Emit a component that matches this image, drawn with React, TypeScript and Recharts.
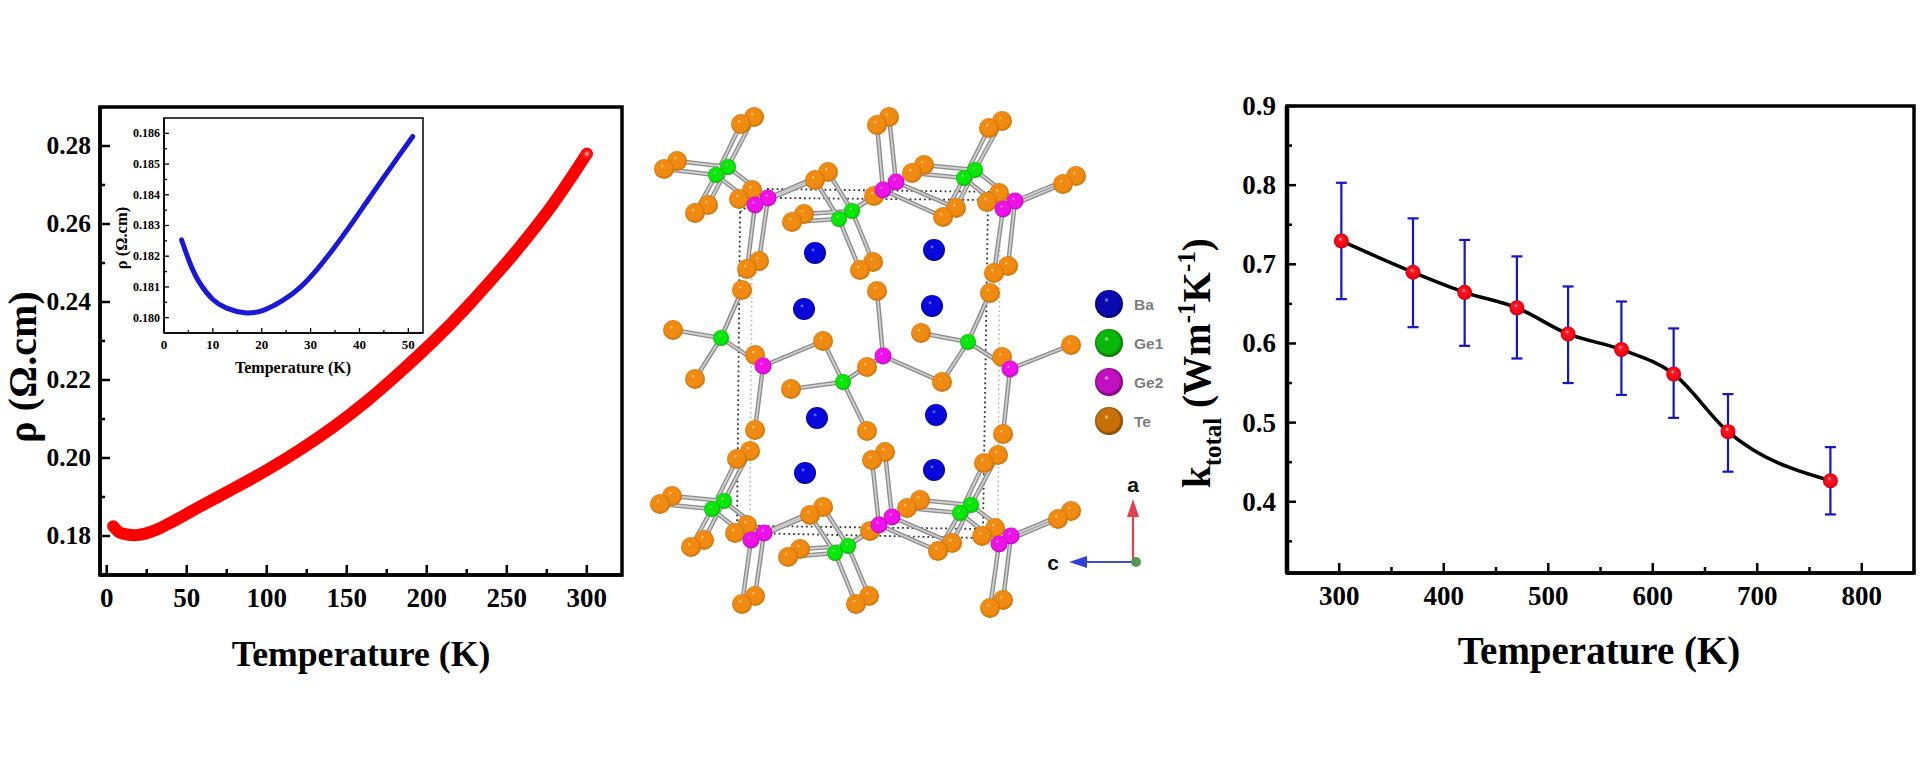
import React from "react";
import { LineChart, Line, ScatterChart, Scatter, XAxis, YAxis, ReferenceArea, ReferenceLine, ErrorBar, Label } from "recharts";

// ---------- resistivity (main) ----------
const rhoT = [4, 7, 10, 17, 24, 31, 38, 48, 58, 79, 100, 121, 141.7, 162.5, 183, 204, 225, 246, 258, 279, 300];
const rhoV = [0.1825, 0.1812, 0.1806, 0.1802, 0.1806, 0.1816, 0.183, 0.1852, 0.1875, 0.1921, 0.1969, 0.2022, 0.208, 0.2146, 0.2219, 0.2299, 0.2387, 0.2483, 0.2541, 0.2652, 0.278];
const rhoXMajor = [0, 50, 100, 150, 200, 250, 300];
const rhoXMinor = [25, 75, 125, 175, 225, 275];
const rhoYMajor = [0.18, 0.2, 0.22, 0.24, 0.26, 0.28];
const rhoYMinor = [0.17, 0.19, 0.21, 0.23, 0.25, 0.27, 0.29];

// ---------- resistivity (inset) ----------
const insetT = [3.6, 5.3, 7.3, 10, 12.8, 16.5, 20.3, 24.3, 27.8, 31.2, 34.6, 38, 41.4, 44.8, 48.2, 50.9];
const insetV = [0.18253, 0.18178, 0.18113, 0.18059, 0.18031, 0.18016, 0.18024, 0.18056, 0.18098, 0.18155, 0.18223, 0.18297, 0.18375, 0.18453, 0.1853, 0.1859];
const insetXMajor = [0, 10, 20, 30, 40, 50];
const insetXMinor = [5, 15, 25, 35, 45];
const insetYMajor = [0.18, 0.181, 0.182, 0.183, 0.184, 0.185, 0.186];
const insetYMinor = [0.1805, 0.1815, 0.1825, 0.1835, 0.1845, 0.1855];

// ---------- thermal conductivity ----------
const kT = [302, 370.6, 420, 470, 519, 570, 620, 672, 770];
const kV = [0.7295, 0.69, 0.6646, 0.645, 0.612, 0.5924, 0.5614, 0.4886, 0.4266];
const kHigh = [0.803, 0.758, 0.7308, 0.71, 0.672, 0.653, 0.619, 0.536, 0.469];
const kLow = [0.656, 0.6206, 0.597, 0.581, 0.55, 0.535, 0.506, 0.438, 0.384];
const kXMajor = [300, 400, 500, 600, 700, 800];
const kXMinor = [250, 350, 450, 550, 650, 750, 850];
const kYMajor = [0.4, 0.5, 0.6, 0.7, 0.8, 0.9];
const kYMinor = [0.35, 0.45, 0.55, 0.65, 0.75, 0.85];

// ---------- crystal structure, read in picture units ----------
const teAtoms = [
  [754, 117], [741, 124], [677, 161], [664, 169], [708, 205], [695, 213], [752, 190], [739, 199], [828, 172], [815, 180], [804, 214], [792, 222],
  [759, 261], [747, 269], [873, 262], [860, 270], [889, 117], [877, 125], [924, 165], [912, 173], [874, 196], [956, 208], [943, 217], [1002, 121],
  [989, 128], [1076, 176], [1063, 184], [999, 193], [987, 202], [1008, 266], [994, 273],
  [742, 290], [877, 291], [673, 330], [755, 355], [823, 341], [921, 333], [695, 379], [867, 367], [942, 382], [791, 389], [755, 430], [867, 431], [990, 293], [1071, 345], [1002, 357], [1003, 434],
  [750, 451], [737, 459], [672, 496], [660, 504], [704, 540], [691, 547], [747, 525], [735, 533], [823, 507], [810, 515], [800, 549], [788, 557],
  [755, 596], [742, 604], [869, 596], [856, 604], [885, 452], [872, 460], [920, 500], [907, 508], [870, 531], [952, 543], [938, 551], [998, 455],
  [984, 463], [1071, 511], [1058, 519], [995, 528], [982, 536], [1003, 600], [990, 608],
];
const baAtoms = [[815, 253], [934, 250], [804, 309], [932, 306], [817, 418], [936, 415], [805, 473], [934, 470]];
const ge1Atoms = [[728, 167], [716, 175], [852, 211], [839, 219], [975, 170], [964, 178], [721, 338], [843, 382], [968, 342], [724, 501], [712, 509], [848, 546], [835, 553], [971, 505], [960, 513]];
const ge2Atoms = [[768, 198], [755, 205], [896, 182], [883, 190], [1015, 201], [1003, 209], [763, 366], [883, 356], [1010, 369], [764, 533], [751, 540], [892, 517], [879, 525], [1011, 536], [999, 544]];
const bonds = [
  [728, 167, 754, 117], [728, 167, 677, 161], [728, 167, 708, 205], [728, 167, 768, 198],
  [716, 175, 741, 124], [716, 175, 664, 169], [716, 175, 695, 213], [716, 175, 755, 205],
  [768, 198, 828, 172], [755, 205, 815, 180], [768, 198, 759, 261], [755, 205, 747, 269],
  [852, 211, 828, 172], [852, 211, 804, 214], [852, 211, 873, 262], [852, 211, 896, 182],
  [839, 219, 815, 180], [839, 219, 792, 222], [839, 219, 860, 270], [839, 219, 883, 190],
  [896, 182, 889, 117], [896, 182, 956, 208], [883, 190, 877, 125], [883, 190, 943, 217],
  [975, 170, 1002, 121], [975, 170, 924, 165], [975, 170, 956, 208], [975, 170, 1015, 201],
  [964, 178, 989, 128], [964, 178, 912, 173], [964, 178, 943, 217], [964, 178, 1003, 209],
  [1015, 201, 1076, 176], [1015, 201, 1008, 266], [1003, 209, 1063, 184], [1003, 209, 994, 273],
  [721, 338, 742, 290], [721, 338, 673, 330], [721, 338, 695, 379], [721, 338, 763, 366],
  [763, 366, 823, 341], [763, 366, 755, 430],
  [843, 382, 823, 341], [843, 382, 791, 389], [843, 382, 867, 431], [843, 382, 883, 356],
  [883, 356, 877, 291], [883, 356, 942, 382],
  [968, 342, 990, 293], [968, 342, 921, 333], [968, 342, 942, 382], [968, 342, 1010, 369],
  [1010, 369, 1071, 345], [1010, 369, 1003, 434],
  [724, 501, 750, 451], [724, 501, 672, 496], [724, 501, 704, 540], [724, 501, 764, 533],
  [712, 509, 737, 459], [712, 509, 660, 504], [712, 509, 691, 547], [712, 509, 751, 540],
  [764, 533, 823, 507], [764, 533, 755, 596], [751, 540, 810, 515], [751, 540, 742, 604],
  [848, 546, 823, 507], [848, 546, 800, 549], [848, 546, 869, 596], [848, 546, 892, 517],
  [835, 553, 810, 515], [835, 553, 788, 557], [835, 553, 856, 604], [835, 553, 879, 525],
  [892, 517, 885, 452], [892, 517, 952, 543], [879, 525, 872, 460], [879, 525, 938, 551],
  [971, 505, 998, 455], [971, 505, 920, 500], [971, 505, 952, 543], [971, 505, 1011, 536],
  [960, 513, 984, 463], [960, 513, 907, 508], [960, 513, 938, 551], [960, 513, 999, 544],
  [1011, 536, 1071, 511], [1011, 536, 1003, 600], [999, 544, 1058, 519], [999, 544, 990, 608],
];
const cellDark = [
  [767, 189, 1000, 192], [780, 198, 985, 200], [740, 212, 737, 530], [740, 212, 758, 198], [988, 200, 983, 529], [758, 526, 985, 529], [745, 533, 980, 538],
];
const cellLight = [[752, 260, 750, 512], [1000, 200, 998, 525]];
const legendNames = ["Ba", "Ge1", "Ge2", "Te"];
const legendColumn = [1109, 1109, 1109, 1109];
const legendRows = [304, 343, 382, 421];
const triadLines = [[1133, 562, 1133, 515, "#e2404c"], [1133, 562, 1085, 562, "#3b50d0"]];
const triadHeads = [{ x: 1133, y: 499, dir: "up" }, { x: 1069, y: 562, dir: "left" }];
const triadNames = [{ x: 1133, y: 485, t: "a" }, { x: 1053, y: 563, t: "c" }];
const triadOrigin = [{ x: 1136, y: 562 }];

const SERIF = "'Liberation Serif', serif";
const SANS = "'Liberation Sans', sans-serif";
const rows = (a: number[], b: number[], ka: string, kb: string) => a.map((v, i) => ({ [ka]: v, [kb]: b[i] }));
const pts = (a: number[][]) => a.map(([x, y]) => ({ x, y }));

const rhoData = rows(rhoT, rhoV, "t", "v");
const insetData = rows(insetT, insetV, "t", "v");
const kData = kT.map((t, i) => ({ t, v: kV[i], e: [kV[i] - kLow[i], kHigh[i] - kV[i]] }));

function xTick(major: number[], size: number, long: number, short: number, sw: number, dy: number) {
  return (p: any) => {
    const isMajor = major.includes(p.payload.value);
    return (
      <g>
        <line x1={p.x} x2={p.x} y1={p.y} y2={p.y - (isMajor ? long : short)} stroke="#000" strokeWidth={sw} />
        {isMajor && (
          <text x={p.x} y={p.y + dy} textAnchor="middle" fontFamily={SERIF} fontWeight={700} fontSize={size} fill="#000">
            {p.payload.value}
          </text>
        )}
      </g>
    );
  };
}
function yTick(major: number[], size: number, long: number, short: number, sw: number, digits: number, gap: number) {
  return (p: any) => {
    const isMajor = major.includes(p.payload.value);
    return (
      <g>
        <line x1={p.x} x2={p.x + (isMajor ? long : short)} y1={p.y} y2={p.y} stroke="#000" strokeWidth={sw} />
        {isMajor && (
          <text x={p.x - gap} y={p.y + size * 0.33} textAnchor="end" fontFamily={SERIF} fontWeight={700} fontSize={size} fill="#000">
            {p.payload.value.toFixed(digits)}
          </text>
        )}
      </g>
    );
  };
}
const sortedNums = (a: number[], b: number[]) => [...a, ...b].sort((m, n) => m - n);
const Ball = (id: string, r: number) => (p: any) => <circle cx={p.cx} cy={p.cy} r={r} fill={`url(#${id})`} />;
const Grad = ({ id, hi, mid, lo }: { id: string; hi: string; mid: string; lo: string }) => (
  <radialGradient id={id} cx="50%" cy="50%" r="55%" fx="40%" fy="34%">
    <stop offset="0%" stopColor={hi} />
    <stop offset="16%" stopColor={mid} />
    <stop offset="72%" stopColor={mid} />
    <stop offset="100%" stopColor={lo} />
  </radialGradient>
);
const abs = (left: number, top: number): React.CSSProperties => ({ position: "absolute", left, top });

function LeftChart() {
  return (
    <div style={abs(0, 90)}>
      <LineChart width={630} height={610} data={rhoData} margin={{ left: 99, right: 8, top: 17, bottom: 124 }}>
        <defs>
          <radialGradient id="redEnd" cx="50%" cy="50%" r="50%">
            <stop offset="0%" stopColor="#ffc4c4" />
            <stop offset="45%" stopColor="#ff2020" />
            <stop offset="100%" stopColor="#ff0000" />
          </radialGradient>
        </defs>
        <XAxis dataKey="t" type="number" domain={[-4.2, 322]} ticks={sortedNums(rhoXMajor, rhoXMinor)} interval={0} height={1} tickSize={0} tickMargin={0} tickLine={false}
          axisLine={{ stroke: "#000", strokeWidth: 3.5 }} tick={xTick(rhoXMajor, 27, 10, 6, 2.5, 32)}>
          <Label content={() => <text x={361} y={576} textAnchor="middle" fontFamily={SERIF} fontWeight={700} fontSize={35.7}>Temperature (K)</text>} />
        </XAxis>
        <YAxis type="number" domain={[0.17, 0.29]} ticks={sortedNums(rhoYMajor, rhoYMinor)} interval={0} width={1} tickSize={0} tickMargin={0} tickLine={false}
          axisLine={{ stroke: "#000", strokeWidth: 3.5 }} tick={yTick(rhoYMajor, 25.5, 10, 5, 2.5, 2, 9)}>
          <Label content={() => <text transform="translate(35.5,277) rotate(-90)" textAnchor="middle" fontFamily={SERIF} fontWeight={700} fontSize={39.5} letterSpacing={0.3}>ρ (Ω.cm)</text>} />
        </YAxis>
        <ReferenceArea x1={-4.2} x2={322} y1={0.17} y2={0.29} fill="none" stroke="#000" strokeWidth={3.5} />
        <Line dataKey="v" type="natural" stroke="#ff0000" strokeWidth={12} strokeLinecap="round" isAnimationActive={false} activeDot={false}
          dot={(p: any) => (p.index === rhoData.length - 1 ? <circle key="end" cx={p.cx} cy={p.cy} r={6} fill="url(#redEnd)" /> : <g key={p.index} />)} />
      </LineChart>
    </div>
  );
}

function InsetChart() {
  return (
    <div style={abs(110, 108)}>
      <LineChart width={330} height={275} data={insetData} margin={{ left: 53, right: 17, top: 10, bottom: 49 }}>
        <XAxis dataKey="t" type="number" domain={[0, 53]} ticks={sortedNums(insetXMajor, insetXMinor)} interval={0} height={1} tickSize={0} tickMargin={0} tickLine={false}
          axisLine={{ stroke: "#000", strokeWidth: 1.5 }} tick={xTick(insetXMajor, 13, 5, 3, 1.3, 16)}>
          <Label content={() => <text x={183} y={265} textAnchor="middle" fontFamily={SERIF} fontWeight={700} fontSize={16}>Temperature (K)</text>} />
        </XAxis>
        <YAxis type="number" domain={[0.1795, 0.1865]} ticks={sortedNums(insetYMajor, insetYMinor)} interval={0} width={1} tickSize={0} tickMargin={0} tickLine={false}
          axisLine={{ stroke: "#000", strokeWidth: 1.5 }} tick={yTick(insetYMajor, 12, 5, 3, 1.3, 3, 4)}>
          <Label content={() => <text transform="translate(17,130) rotate(-90)" textAnchor="middle" fontFamily={SERIF} fontWeight={700} fontSize={16.5}>ρ (Ω.cm)</text>} />
        </YAxis>
        <ReferenceArea x1={0} x2={53} y1={0.1795} y2={0.1865} fill="none" stroke="#000" strokeWidth={1.5} />
        <Line dataKey="v" type="natural" stroke="#1a1ad6" strokeWidth={5} strokeLinecap="round" dot={false} activeDot={false} isAnimationActive={false} />
      </LineChart>
    </div>
  );
}

function Crystal() {
  return (
    <div style={abs(630, 90)}>
      <ScatterChart width={545} height={530} margin={{ left: 0, right: 0, top: 0, bottom: 0 }}>
        <defs>
          <Grad id="teBall" hi="#ffd9a0" mid="#f08a10" lo="#b86405" />
          <Grad id="baBall" hi="#8f9fff" mid="#0808dc" lo="#000090" />
          <Grad id="ge1Ball" hi="#c0ffc0" mid="#08e808" lo="#069a06" />
          <Grad id="ge2Ball" hi="#ffc0ff" mid="#f010ea" lo="#a008a0" />
          <Grad id="lgBa" hi="#8fa0ff" mid="#0a0ab0" lo="#000050" />
          <Grad id="lgGe1" hi="#b0ffb0" mid="#08b808" lo="#005000" />
          <Grad id="lgGe2" hi="#ffb0ff" mid="#c010c0" lo="#500050" />
          <Grad id="lgTe" hi="#ffd090" mid="#c87008" lo="#603000" />
        </defs>
        <XAxis dataKey="x" type="number" domain={[630, 1175]} hide />
        <YAxis dataKey="y" type="number" domain={[90, 620]} reversed hide />
        {cellLight.map((s, i) => (
          <ReferenceLine key={`cl${i}`} segment={[{ x: s[0], y: s[1] }, { x: s[2], y: s[3] }]} stroke="#b8b8b8" strokeWidth={1.6} strokeDasharray="1.6 3" ifOverflow="visible" />
        ))}
        {cellDark.map((s, i) => (
          <ReferenceLine key={`cd${i}`} segment={[{ x: s[0], y: s[1] }, { x: s[2], y: s[3] }]} stroke="#333" strokeWidth={1.8} strokeDasharray="1.8 3" ifOverflow="visible" />
        ))}
        {bonds.map((s, i) => (
          <ReferenceLine key={`bo${i}`} segment={[{ x: s[0], y: s[1] }, { x: s[2], y: s[3] }]} stroke="#8c8c8c" strokeWidth={4.5} ifOverflow="visible" />
        ))}
        {bonds.map((s, i) => (
          <ReferenceLine key={`bi${i}`} segment={[{ x: s[0], y: s[1] }, { x: s[2], y: s[3] }]} stroke="#cfcfcf" strokeWidth={1.8} ifOverflow="visible" />
        ))}
        {triadLines.map((s, i) => (
          <ReferenceLine key={`tr${i}`} segment={[{ x: s[0] as number, y: s[1] as number }, { x: s[2] as number, y: s[3] as number }]} stroke={s[4] as string} strokeWidth={2.2} ifOverflow="visible" />
        ))}
        <Scatter data={pts(baAtoms)} isAnimationActive={false} shape={Ball("baBall", 11)} />
        <Scatter data={pts(teAtoms)} isAnimationActive={false} shape={Ball("teBall", 10)} />
        <Scatter data={pts(ge1Atoms)} isAnimationActive={false} shape={Ball("ge1Ball", 8)} />
        <Scatter data={pts(ge2Atoms)} isAnimationActive={false} shape={Ball("ge2Ball", 8.5)} />
        <Scatter data={legendNames.map((n, i) => ({ x: legendColumn[i], y: legendRows[i], n }))} isAnimationActive={false}
          shape={(p: any) => (
            <g>
              <circle cx={p.cx} cy={p.cy} r={14} fill={`url(#lg${p.n})`} />
              <text x={p.cx + 25} y={p.cy + 5.5} fontFamily={SANS} fontWeight={700} fontSize={15.5} fill="#7d7d7d">{p.n}</text>
            </g>
          )} />
        <Scatter data={triadHeads} isAnimationActive={false}
          shape={(p: any) => (
            <polygon
              points={p.dir === "up"
                ? `${p.cx},${p.cy} ${p.cx - 6},${p.cy + 18} ${p.cx + 6},${p.cy + 18}`
                : `${p.cx},${p.cy} ${p.cx + 18},${p.cy - 6} ${p.cx + 18},${p.cy + 6}`}
              fill={p.dir === "up" ? "#e2404c" : "#3040d8"} />
          )} />
        <Scatter data={triadOrigin} isAnimationActive={false} shape={(p: any) => <circle cx={p.cx} cy={p.cy} r={5} fill="#4f9a50" />} />
        <Scatter data={triadNames} isAnimationActive={false}
          shape={(p: any) => <text x={p.cx} y={p.cy + 7} textAnchor="middle" fontFamily={SANS} fontWeight={700} fontSize={21} fill="#111">{p.t}</text>} />
      </ScatterChart>
    </div>
  );
}

function RightChart() {
  const part = (t: string, x: number, y: number, size: number) => (
    <text x={x} y={y} fontFamily={SERIF} fontWeight={700} fontSize={size} fill="#000">{t}</text>
  );
  return (
    <div style={abs(1155, 80)}>
      <LineChart width={765} height={610} data={kData} margin={{ left: 131, right: 6, top: 26, bottom: 116 }}>
        <defs>
          <radialGradient id="redBall" cx="50%" cy="50%" r="55%" fx="42%" fy="34%">
            <stop offset="0%" stopColor="#ffd0d0" />
            <stop offset="22%" stopColor="#ff1a28" />
            <stop offset="78%" stopColor="#f00010" />
            <stop offset="100%" stopColor="#b00008" />
          </radialGradient>
        </defs>
        <XAxis dataKey="t" type="number" domain={[250, 850]} ticks={sortedNums(kXMajor, kXMinor)} interval={0} height={1} tickSize={0} tickMargin={0} tickLine={false}
          axisLine={{ stroke: "#000", strokeWidth: 3.5 }} tick={xTick(kXMajor, 27, 10, 6, 2.5, 32)}>
          <Label content={() => <text x={444} y={584} textAnchor="middle" fontFamily={SERIF} fontWeight={700} fontSize={39}>Temperature (K)</text>} />
        </XAxis>
        <YAxis type="number" domain={[0.31, 0.9]} ticks={sortedNums(kYMajor, kYMinor)} interval={0} width={1} tickSize={0} tickMargin={0} tickLine={false}
          axisLine={{ stroke: "#000", strokeWidth: 4.5 }} tick={yTick(kYMajor, 27, 9, 5, 2.5, 1, 11)}>
          <Label content={() => (
            <g transform="translate(55,408) rotate(-90)">
              {part("k", 0, 0, 39)}
              {part("total", 21.7, 11, 25)}
              {part("(Wm", 80, 0, 39)}
              {part("-1", 164.7, -15, 25)}
              {part("K", 185.5, 0, 39)}
              {part("-1", 215.9, -15, 25)}
              {part(")", 236.7, 0, 39)}
            </g>
          )} />
        </YAxis>
        <ReferenceArea x1={250} x2={850} y1={0.31} y2={0.9} fill="none" stroke="#000" strokeWidth={3.5} />
        <Line dataKey="v" type="monotone" stroke="#000" strokeWidth={3.5} isAnimationActive={false} activeDot={false}
          dot={(p: any) => <circle key={p.index} cx={p.cx} cy={p.cy} r={7.5} fill="url(#redBall)" />}>
          <ErrorBar dataKey="e" direction="y" stroke="#1414c8" strokeWidth={2.2} width={5.5} isAnimationActive={false} />
        </Line>
      </LineChart>
    </div>
  );
}

export default function App() {
  return (
    <div style={{ position: "absolute", left: 0, top: 0, width: 1920, height: 767, background: "#fff", overflow: "hidden" }}>
      <LeftChart />
      <InsetChart />
      <Crystal />
      <RightChart />
    </div>
  );
}
